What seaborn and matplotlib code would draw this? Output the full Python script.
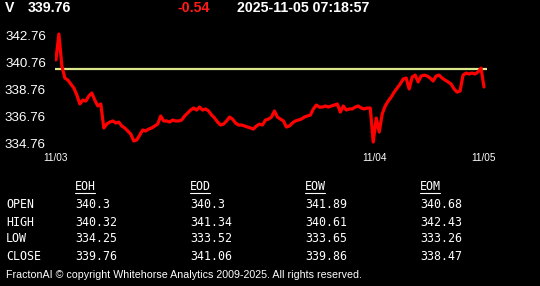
import matplotlib
matplotlib.use("Agg")
import matplotlib.pyplot as plt
import seaborn as sns
import numpy as np
import pandas as pd

# ---------------- data ----------------
symbol = "V"
last_price = "339.76"
change = "-0.54"
timestamp = "2025-11-05 07:18:57"

prices = [
    340.95, 342.87, 340.50, 339.61, 339.46, 339.17, 338.87, 338.35, 337.69, 337.98,
    337.91, 338.28, 338.50, 337.98, 337.54, 337.69, 335.91, 336.20, 336.35, 336.43,
    336.28, 336.35, 336.06, 335.91, 335.69, 335.46, 334.95, 335.02, 335.39, 335.76,
    335.69, 335.83, 335.91, 336.06, 336.20, 336.80, 336.43, 336.43, 336.35, 336.50,
    336.43, 336.43, 336.50, 336.80, 337.02, 337.24, 337.39, 337.24, 337.46, 337.24,
    337.32, 337.17, 336.87, 336.65, 336.35, 336.13, 336.20, 336.43, 336.72, 336.57,
    336.28, 336.13, 336.13, 336.06, 335.98, 335.91, 335.83, 336.06, 336.20, 336.13,
    336.50, 336.57, 336.72, 337.17, 336.72, 336.57, 336.43, 335.98, 336.06, 336.28,
    336.43, 336.50, 336.57, 336.72, 336.80, 336.87, 337.32, 337.61, 337.46, 337.46,
    337.54, 337.46, 337.54, 337.61, 337.69, 337.09, 337.54, 337.24, 337.32, 337.32,
    337.46, 337.54, 337.39, 337.32, 337.39, 337.39, 334.87, 336.65, 335.61, 336.95,
    337.54, 337.91, 338.20, 338.57, 338.87, 339.17, 339.54, 339.61, 338.80, 339.69,
    339.83, 339.32, 339.76, 339.83, 339.76, 339.61, 339.39, 339.76, 339.83, 339.61,
    339.46, 339.32, 339.17, 338.80, 338.57, 338.65, 339.83, 339.98, 339.91, 339.98,
    339.91, 340.06, 340.35, 338.95,
]
ref_level = 340.30

y_ticks = [334.76, 336.76, 338.76, 340.76, 342.76]
x_tick_pos = [0, 106.4, 143]
x_tick_labels = ["11/03", "11/04", "11/05"]

col_headers = ["EOH", "EOD", "EOW", "EOM"]
row_labels = ["OPEN", "HIGH", "LOW", "CLOSE"]
table_values = {
    "EOH": ["340.3", "340.32", "334.25", "339.76"],
    "EOD": ["340.3", "341.34", "333.52", "341.06"],
    "EOW": ["341.89", "340.61", "333.65", "339.86"],
    "EOM": ["340.68", "342.43", "333.26", "338.47"],
}
footer = "FractonAI \u00a9 copyright Whitehorse Analytics 2009-2025. All rights reserved."

# ---------------- figure ----------------
sns.set_style("dark")
plt.rcParams["font.family"] = ["Liberation Sans", "DejaVu Sans"]

W, H = 540, 286
fig = plt.figure(figsize=(W / 100, H / 100), dpi=100, facecolor="black")

def fx(px):
    return px / W

def fy(py):
    return 1 - py / H

ax = fig.add_axes([fx(55), fy(146), fx(487) - fx(55), fy(28) - fy(146)])
ax.set_facecolor("black")

df = pd.DataFrame({"idx": np.arange(len(prices)), "price": prices})
sns.lineplot(data=df, x="idx", y="price", color="#ff0000", linewidth=2.3, ax=ax)
ax.axhline(ref_level, color="#dce68c", linewidth=1.6, zorder=1)

ax.set_xlim(-0.3, 144.0)
ax.set_ylim(334.575, 343.32)
ax.set_yticks(y_ticks)
ax.set_yticklabels([f"{v:.2f}" for v in y_ticks])
ax.set_xticks(x_tick_pos)
ax.set_xticklabels(x_tick_labels)
ax.tick_params(axis="y", length=0, pad=6.5, labelsize=9.6, labelcolor="white")
ax.tick_params(axis="x", length=2, width=1, color="white", pad=3,
               labelsize=7.2, labelcolor="white", direction="out")
ax.set_xlabel("")
ax.set_ylabel("")
ax.grid(False)
for s in ax.spines.values():
    s.set_visible(False)

# header
hs = 10.2
fig.text(fx(5), fy(8), symbol, color="white", fontsize=hs, fontweight="bold", va="center")
fig.text(fx(28), fy(8), last_price, color="white", fontsize=hs, fontweight="bold", va="center")
fig.text(fx(178), fy(8), change, color="#ff1a1a", fontsize=hs, fontweight="bold", va="center")
fig.text(fx(237), fy(8), timestamp, color="white", fontsize=hs, fontweight="bold", va="center")

# table
mono = ["DejaVu Sans Mono"]
ts = 8.4
col_x = [75, 190, 305, 420]
row_y = [205, 222, 239, 256]
for cx, h in zip(col_x, col_headers):
    fig.text(fx(cx), fy(187), h, color="white", fontsize=ts, family=mono, va="center")
    fig.add_artist(plt.Line2D([fx(cx), fx(cx + 20)], [fy(193), fy(193)],
                              color="white", linewidth=0.8, transform=fig.transFigure))
for ry, rl in zip(row_y, row_labels):
    fig.text(fx(6), fy(ry), rl, color="white", fontsize=ts, family=mono, va="center")
for cx, h in zip(col_x, col_headers):
    for ry, v in zip(row_y, table_values[h]):
        fig.text(fx(cx), fy(ry), v, color="white", fontsize=ts, family=mono, va="center")

fig.text(fx(6), fy(275), footer, color="white", fontsize=7.7, va="center")

fig.savefig("out.png", dpi=100, facecolor="black")
